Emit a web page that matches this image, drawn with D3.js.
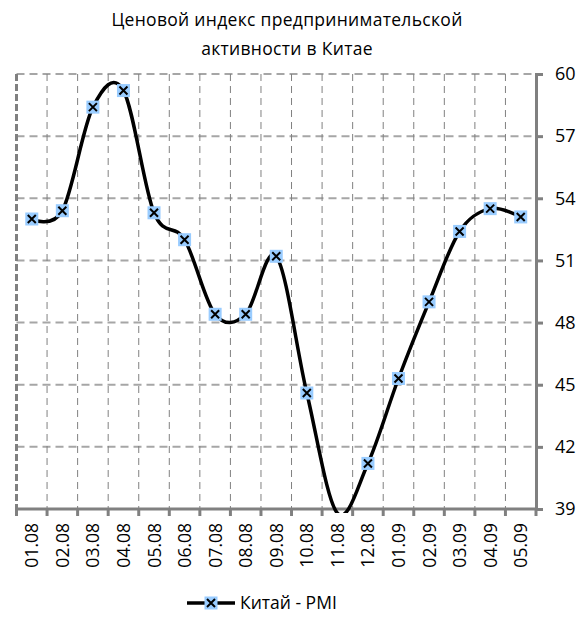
<!DOCTYPE html>
<html>
<head>
<meta charset="utf-8">
<script src="https://cdn.jsdelivr.net/npm/d3@7"></script>
<style>
  body { margin: 0; background: #fff; }
  text { font-family: "Open Sans", Lato, sans-serif; fill: #000; }
</style>
</head>
<body>
<div id="chart"></div>
<script>
const months = ["01.08", "02.08", "03.08", "04.08", "05.08", "06.08", "07.08", "08.08", "09.08",
  "10.08", "11.08", "12.08", "01.09", "02.09", "03.09", "04.09", "05.09"];
const pmi = [53.0, 53.4, 58.4, 59.2, 53.3, 52.0, 48.4, 48.4, 51.2, 44.6, 38.8, 41.2, 45.3, 49.0, 52.4, 53.5, 53.1];
const yTicks = [39, 42, 45, 48, 51, 54, 57, 60];
const seriesName = "Китай - PMI";
const titleLines = ["Ценовой индекс предпринимательской", "активности в Китае"];

const W = 585, H = 620;
const plot = {left: 16.5, right: 536, top: 74, bottom: 509};

const svg = d3.select("#chart").append("svg")
  .attr("width", W)
  .attr("height", H);

const x = d3.scaleBand().domain(months).range([plot.left, plot.right]);
const y = d3.scaleLinear().domain([39, 60]).range([plot.bottom, plot.top]);

// title
svg.selectAll(".title")
  .data(titleLines)
  .enter()
  .append("text")
  .attr("class", "title")
  .attr("x", 287)
  .attr("y", (d, i) => 26 + i * 29)
  .attr("text-anchor", "middle")
  .style("font-size", "17.5px")
  .style("letter-spacing", "0.3px")
  .text(d => d);

// horizontal grid
svg.selectAll(".y-grid")
  .data(yTicks.slice(1))
  .enter()
  .append("line")
  .attr("class", "y-grid")
  .attr("x1", plot.left)
  .attr("x2", plot.right)
  .attr("y1", d => y(d))
  .attr("y2", d => y(d))
  .attr("stroke", "#a6a6a6")
  .attr("stroke-width", 2)
  .attr("stroke-dasharray", "8,5");

// vertical grid at category boundaries
svg.selectAll(".x-grid")
  .data(months.slice(1))
  .enter()
  .append("line")
  .attr("class", "x-grid")
  .attr("x1", d => x(d))
  .attr("x2", d => x(d))
  .attr("y1", plot.top)
  .attr("y2", plot.bottom)
  .attr("stroke", "#808080")
  .attr("stroke-width", 1)
  .attr("stroke-dasharray", "7,5");

// left border
svg.append("line")
  .attr("x1", plot.left)
  .attr("x2", plot.left)
  .attr("y1", plot.top)
  .attr("y2", plot.bottom)
  .attr("stroke", "#808080")
  .attr("stroke-width", 3)
  .attr("stroke-dasharray", "7,3");

// axes
const yAxis = svg.append("g")
  .attr("transform", `translate(${plot.right},0)`)
  .call(d3.axisRight(y).tickValues(yTicks).tickSize(7).tickPadding(12));
yAxis.select(".domain").attr("stroke", "#808080").attr("stroke-width", 3);
yAxis.selectAll(".tick line").attr("stroke", "#808080").attr("stroke-width", 3);
yAxis.selectAll(".tick text").style("font-size", "18px").style("font-family", "'Open Sans', sans-serif").attr("fill", "#000");

const xAxis = svg.append("g")
  .attr("transform", `translate(0,${plot.bottom})`);
xAxis.append("line")
  .attr("x1", plot.left - 1.5)
  .attr("x2", plot.right)
  .attr("stroke", "#808080")
  .attr("stroke-width", 3);
xAxis.selectAll(".xt")
  .data([null].concat(months))
  .enter()
  .append("line")
  .attr("class", "xt")
  .attr("x1", d => d === null ? plot.left : x(d) + x.bandwidth())
  .attr("x2", d => d === null ? plot.left : x(d) + x.bandwidth())
  .attr("y1", 0)
  .attr("y2", 7)
  .attr("stroke", "#808080")
  .attr("stroke-width", 3);
xAxis.selectAll(".xl")
  .data(months)
  .enter()
  .append("text")
  .attr("class", "xl")
  .attr("transform", d => `translate(${x(d) + x.bandwidth() / 2 + 6.5},14) rotate(-90)`)
  .attr("text-anchor", "end")
  .style("font-size", "17.5px")
  .text(d => d);

// clip
svg.append("clipPath").attr("id", "clip")
  .append("rect")
  .attr("x", plot.left)
  .attr("y", plot.top - 10)
  .attr("width", plot.right - plot.left)
  .attr("height", plot.bottom - plot.top + 14);

const line = d3.line()
  .x((d, i) => x(months[i]) + x.bandwidth() / 2)
  .y(d => y(d))
  .curve(d3.curveCardinal.tension(0));

svg.append("path")
  .datum(pmi)
  .attr("clip-path", "url(#clip)")
  .attr("d", line)
  .attr("fill", "none")
  .attr("stroke", "#000")
  .attr("stroke-width", 3.5);

function marker(g, cx, cy) {
  g.append("rect")
    .attr("x", cx - 6.5)
    .attr("y", cy - 6.5)
    .attr("width", 13)
    .attr("height", 13)
    .attr("fill", "#99ccff");
  g.append("path")
    .attr("d", `M${cx - 4},${cy - 4}L${cx + 4},${cy + 4}M${cx - 4},${cy + 4}L${cx + 4},${cy - 4}`)
    .attr("stroke", "#000")
    .attr("stroke-width", 2);
}

const markers = svg.append("g");
pmi.forEach((v, i) => {
  if (v < 39) return; // outside plot area
  marker(markers, x(months[i]) + x.bandwidth() / 2, y(v));
});

// legend
const lg = svg.append("g");
lg.append("line")
  .attr("x1", 187)
  .attr("x2", 235)
  .attr("y1", 603)
  .attr("y2", 603)
  .attr("stroke", "#000")
  .attr("stroke-width", 3.5);
marker(lg, 211, 603);
lg.append("text")
  .attr("x", 240)
  .attr("y", 609)
  .style("font-size", "17.5px")
  .text(seriesName);
</script>
</body>
</html>
